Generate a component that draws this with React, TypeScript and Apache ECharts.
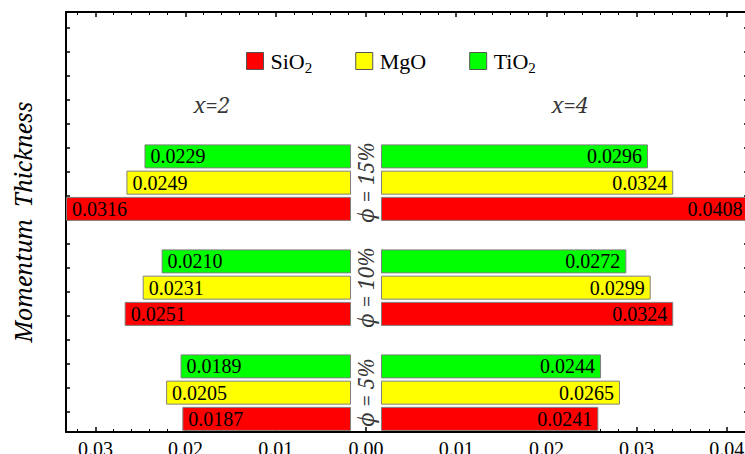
import React, { useEffect, useRef } from 'react';
import * as echarts from 'echarts';

// ---- data ----
const fractions = ['ϕ = 5%', 'ϕ = 10%', 'ϕ = 15%'];
const materials = ['SiO2', 'MgO', 'TiO2'];
const colors = ['#ff0000', '#ffff00', '#00ff00'];
// x = 2 (drawn to the left)
const sio2X2 = [0.0187, 0.0251, 0.0316];
const mgoX2 = [0.0205, 0.0231, 0.0249];
const tio2X2 = [0.0189, 0.0210, 0.0229];
// x = 4 (drawn to the right)
const sio2X4 = [0.0241, 0.0324, 0.0408];
const mgoX4 = [0.0265, 0.0299, 0.0324];
const tio2X4 = [0.0244, 0.0272, 0.0296];
const xTickValues = [-0.03, -0.02, -0.01, 0, 0.01, 0.02, 0.03, 0.04];
const sideLabels = ['x=2', 'x=4'];

const FONT = 'Liberation Serif';
const FONT_IT = '"Noto Serif"';
const X_MIN = -0.03326;
const X_MAX = 0.04235;
const GAP = 0.00166; // half-width of the central gap, in axis units
const SLOTS = 16;

const slotCats = Array.from({ length: SLOTS }, (_, i) => String(i));

function sideSeries(values: number[], pos: number, sign: number) {
  const arr: any[] = new Array(SLOTS).fill('-');
  values.forEach((v, g) => {
    arr[4 * g + pos] = sign * v;
  });
  return arr;
}

function offsetSeries(sign: number) {
  const arr: any[] = new Array(SLOTS).fill('-');
  for (let g = 0; g < 3; g++) for (let p = 0; p < 3; p++) arr[4 * g + p] = sign * GAP;
  return arr;
}

const minorTicks: number[] = [];
for (let k = -16; k <= 21; k++) {
  if (k % 5 !== 0) minorTicks.push(+(k * 0.002).toFixed(4));
}
const yTicks = Array.from({ length: 17 }, (_, i) => i + 1);

export default function App() {
  const ref = useRef<HTMLDivElement>(null);
  useEffect(() => {
    if (!ref.current) return;
    const chart = echarts.init(ref.current, undefined, { renderer: 'svg' });

    const leftVals = [sio2X2, mgoX2, tio2X2];
    const rightVals = [sio2X4, mgoX4, tio2X4];

    const barBase = {
      type: 'bar',
      xAxisIndex: 0,
      yAxisIndex: 0,
      stack: 'all',
      barWidth: 24,
    };

    const series: any[] = [
      {
        ...barBase,
        name: '_offL',
        data: offsetSeries(-1),
        itemStyle: { color: 'rgba(0,0,0,0)', borderWidth: 0 },
        silent: true,
      },
      {
        ...barBase,
        name: '_offR',
        data: offsetSeries(1),
        itemStyle: { color: 'rgba(0,0,0,0)', borderWidth: 0 },
        silent: true,
      },
    ];
    const labelBase = {
      show: true,
      distance: 6,
      formatter: (p: any) => Math.abs(p.value).toFixed(4),
      fontFamily: FONT,
      fontSize: 20,
      color: '#000',
    };
    materials.forEach((m, i) => {
      series.push({
        ...barBase,
        name: m,
        data: sideSeries(leftVals[i], i, -1),
        itemStyle: { color: colors[i], borderColor: '#808080', borderWidth: 1 },
        label: { ...labelBase, position: 'insideLeft' },
      });
      series.push({
        ...barBase,
        name: m,
        data: sideSeries(rightVals[i], i, 1),
        itemStyle: { color: colors[i], borderColor: '#808080', borderWidth: 1 },
        label: { ...labelBase, position: 'insideRight' },
      });
    });
    // φ labels in the central gap
    series.push({
      type: 'scatter',
      name: '_phi',
      xAxisIndex: 0,
      yAxisIndex: 0,
      symbolSize: 0,
      silent: true,
      data: fractions.map((f, g) => ({ value: [0, 4 * g + 1], name: f })),
      label: {
        show: true,
        position: 'inside',
        rotate: 90,
        formatter: '{b}',
        fontFamily: FONT_IT,
        fontStyle: 'italic',
        fontSize: 21,
        color: '#000',
      },
    });
    // x=2 / x=4 headings
    series.push({
      type: 'scatter',
      name: '_side',
      xAxisIndex: 0,
      yAxisIndex: 0,
      symbolSize: 0,
      silent: true,
      data: [
        { value: [-0.0171, 12], name: sideLabels[0] },
        { value: [0.0226, 12], name: sideLabels[1] },
      ],
      label: {
        show: true,
        position: 'inside',
        formatter: '{b}',
        fontFamily: FONT_IT,
        fontStyle: 'italic',
        fontSize: 22,
        color: '#000',
      },
    });

    const gridRect = { left: 66, right: -3, top: 12, bottom: 22, outerBoundsMode: 'none', containLabel: false };
    const lineStyle = { color: '#000', width: 2 };

    chart.setOption({
      animation: false,
      backgroundColor: '#fff',
      grid: [{ ...gridRect }, { ...gridRect }],
      legend: {
        data: materials,
        left: 246,
        top: 50,
        padding: 0,
        itemWidth: 17,
        itemHeight: 17,
        itemGap: 43,
        icon: 'rect',
        itemStyle: { borderColor: '#555', borderWidth: 1 },
        formatter: (name: string) =>
          name.endsWith('2') ? `{b|${name.slice(0, -1)}}{s|2}` : `{b|${name}}`,
        textStyle: {
          fontFamily: FONT,
          fontSize: 22,
          color: '#000',
          padding: [0, 0, 0, 2],
          rich: {
            b: { fontFamily: FONT, fontSize: 22, color: '#000', lineHeight: 22, verticalAlign: 'top' },
            s: {
              fontFamily: FONT,
              fontSize: 15,
              color: '#000',
              lineHeight: 15,
              verticalAlign: 'top',
              padding: [10, 0, 0, 0],
            },
          },
        },
      },
      xAxis: [
        {
          type: 'value',
          gridIndex: 0,
          position: 'bottom',
          min: X_MIN,
          max: X_MAX,
          axisLine: { show: true, onZero: false, lineStyle },
          axisTick: { show: true, inside: true, length: 5, customValues: xTickValues, lineStyle: { color: '#000', width: 1.5 } },
          axisLabel: {
            show: true,
            customValues: xTickValues,
            formatter: (v: number) => Math.abs(v).toFixed(2),
            fontFamily: FONT,
            fontSize: 20,
            color: '#000',
            margin: 7,
          },
          splitLine: { show: false },
        },
        {
          type: 'value',
          gridIndex: 0,
          position: 'top',
          min: X_MIN,
          max: X_MAX,
          axisLine: { show: true, onZero: false, lineStyle },
          axisTick: { show: true, inside: true, length: 5, customValues: xTickValues, lineStyle: { color: '#000', width: 1.5 } },
          axisLabel: { show: false },
          splitLine: { show: false },
        },
        {
          type: 'value',
          gridIndex: 1,
          position: 'bottom',
          min: X_MIN,
          max: X_MAX,
          axisLine: { show: false, onZero: false },
          axisTick: { show: true, inside: true, length: 3, customValues: minorTicks, lineStyle: { color: '#000', width: 1 } },
          axisLabel: { show: false },
          splitLine: { show: false },
        },
        {
          type: 'value',
          gridIndex: 1,
          position: 'top',
          min: X_MIN,
          max: X_MAX,
          axisLine: { show: false, onZero: false },
          axisTick: { show: true, inside: true, length: 3, customValues: minorTicks, lineStyle: { color: '#000', width: 1 } },
          axisLabel: { show: false },
          splitLine: { show: false },
        },
      ],
      yAxis: [
        {
          type: 'category',
          gridIndex: 0,
          position: 'left',
          data: slotCats,
          axisLine: { show: true, onZero: false, lineStyle },
          axisTick: { show: false },
          axisLabel: { show: false },
          splitLine: { show: false },
          name: 'Momentum  Thickness',
          nameLocation: 'middle',
          nameGap: 32,
          nameTextStyle: { fontFamily: FONT_IT, fontStyle: 'italic', fontSize: 23, color: '#000' },
        },
        {
          type: 'category',
          gridIndex: 0,
          position: 'right',
          data: slotCats,
          axisLine: { show: true, onZero: false, lineStyle },
          axisTick: { show: false },
          axisLabel: { show: false },
          splitLine: { show: false },
        },
        {
          type: 'value',
          gridIndex: 1,
          position: 'left',
          min: 0.16667,
          max: 17.66667,
          axisLine: { show: false, onZero: false },
          axisTick: { show: true, inside: true, length: 4, customValues: yTicks, lineStyle: { color: '#000', width: 1.5 } },
          axisLabel: { show: false },
          splitLine: { show: false },
        },
        {
          type: 'value',
          gridIndex: 1,
          position: 'right',
          min: 0.16667,
          max: 17.66667,
          axisLine: { show: false, onZero: false },
          axisTick: { show: true, inside: true, length: 4, customValues: yTicks, lineStyle: { color: '#000', width: 1.5 } },
          axisLabel: { show: false },
          splitLine: { show: false },
        },
      ],
      series,
    });
    return () => chart.dispose();
  }, []);
  return (
    <div
      ref={ref}
      style={{ position: 'absolute', left: 0, top: 0, width: 745, height: 454 }}
    />
  );
}
